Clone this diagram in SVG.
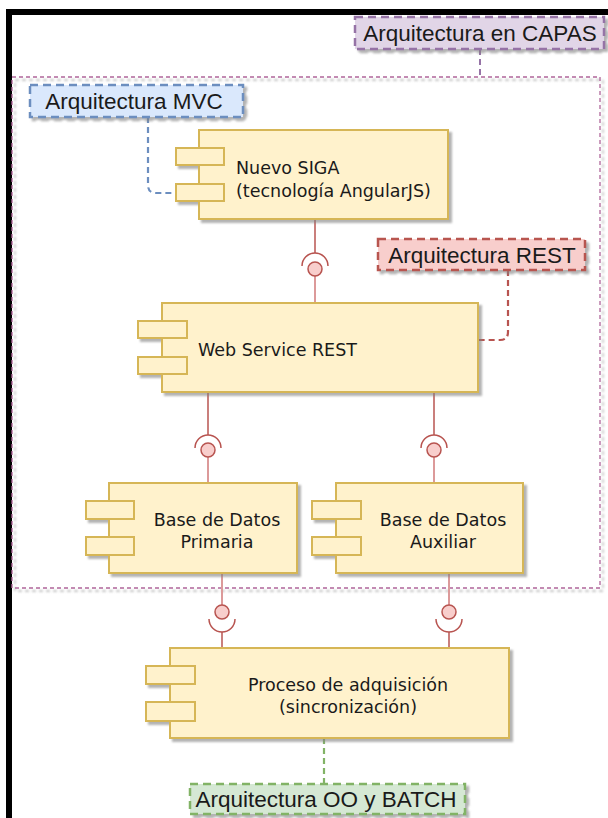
<svg xmlns="http://www.w3.org/2000/svg" width="608" height="818" viewBox="0 0 608 818">
<style>
.comp{fill:#fff2cc;stroke:#d6b656;stroke-width:2}
.ctext{font-family:"DejaVu Sans",Verdana,sans-serif;font-size:17.5px;fill:#1a1a1a}
.ntext{font-family:"Liberation Sans",Arial,sans-serif;font-size:22.5px;fill:#1a1a1a}
.dark{stroke:#b85450;stroke-width:1.5;fill:none}
.light{stroke:#dc9a9a;stroke-width:2;fill:none}
.ball{fill:#f8cecc;stroke:#b85450;stroke-width:1.5}
.arc{fill:none;stroke:#b85450;stroke-width:1.5}
</style>
<defs>
<filter id="sh" x="-10%" y="-10%" width="130%" height="140%">
<feDropShadow dx="3" dy="3" stdDeviation="1.2" flood-color="#808080" flood-opacity="0.6"/>
</filter>
</defs>
<rect width="608" height="818" fill="#ffffff"/>
<!-- frame -->
<rect x="6" y="9" width="602" height="6" fill="#000"/>
<rect x="6" y="9" width="6" height="809" fill="#000"/>

<!-- container -->
<g id="capas-container">
<rect x="12" y="77" width="588" height="511" fill="none" stroke="#b0669a" stroke-width="1.3" stroke-dasharray="4 3" filter="url(#sh)"/>
</g>

<!-- connectors -->
<g id="connectors">
<path d="M480,49 L480,77" fill="none" stroke="#9673a6" stroke-width="2" stroke-dasharray="6 4"/>
<path d="M148,117 L148,185 Q148,193 156,193 L176,193" fill="none" stroke="#6c8ebf" stroke-width="2.2" stroke-dasharray="6 4"/>
<path d="M508,270 L508,332 Q508,340 500,340 L478,340" fill="none" stroke="#b85450" stroke-width="2.2" stroke-dasharray="6 4"/>
<path d="M324,738 L324,784" fill="none" stroke="#82b366" stroke-width="2.2" stroke-dasharray="6 4"/>

<!-- SIGA - WS -->
<line class="dark" x1="315" y1="219" x2="315" y2="253"/>
<path class="arc" d="M302,266 A13,13 0 0 1 328,266"/>
<line class="light" x1="315" y1="276" x2="315" y2="303"/>
<circle class="ball" cx="315" cy="269" r="7"/>

<!-- WS - Primaria -->
<line class="dark" x1="208" y1="392" x2="208" y2="435"/>
<path class="arc" d="M195,448 A13,13 0 0 1 221,448"/>
<line class="light" x1="208" y1="457" x2="208" y2="483"/>
<circle class="ball" cx="208" cy="450" r="7"/>

<!-- WS - Auxiliar -->
<line class="dark" x1="434" y1="392" x2="434" y2="435"/>
<path class="arc" d="M421,448 A13,13 0 0 1 447,448"/>
<line class="light" x1="434" y1="457" x2="434" y2="483"/>
<circle class="ball" cx="434" cy="450" r="7"/>

<!-- Primaria - Proceso -->
<line class="light" x1="222" y1="573" x2="222" y2="605"/>
<circle class="ball" cx="222" cy="612" r="7"/>
<path class="arc" d="M209,619 A13,13 0 0 0 235,619"/>
<line class="dark" x1="222" y1="632" x2="222" y2="648"/>

<!-- Auxiliar - Proceso -->
<line class="light" x1="449" y1="573" x2="449" y2="605"/>
<circle class="ball" cx="449" cy="612" r="7"/>
<path class="arc" d="M436,619 A13,13 0 0 0 462,619"/>
<line class="dark" x1="449" y1="632" x2="449" y2="648"/>
</g>

<!-- notes -->
<g id="note-capas">
<rect x="355" y="17" width="249" height="32" fill="#e1d5e7" stroke="#9673a6" stroke-width="2.5" stroke-dasharray="8 5" filter="url(#sh)"/>
<text class="ntext" x="480" y="41" text-anchor="middle">Arquitectura en CAPAS</text>
</g>
<g id="note-mvc">
<rect x="30" y="85" width="213" height="32" fill="#dae8fc" stroke="#6c8ebf" stroke-width="2.5" stroke-dasharray="8 5" filter="url(#sh)"/>
<text class="ntext" x="134" y="109" text-anchor="middle">Arquitectura MVC</text>
</g>
<g id="note-rest">
<rect x="378" y="239" width="207" height="31" fill="#f8cecc" stroke="#b85450" stroke-width="2.5" stroke-dasharray="8 5" filter="url(#sh)"/>
<text class="ntext" x="482" y="263" text-anchor="middle">Arquitectura REST</text>
</g>
<g id="note-oo">
<rect x="190" y="784" width="275" height="30" fill="#d5e8d4" stroke="#82b366" stroke-width="2.5" stroke-dasharray="8 5" filter="url(#sh)"/>
<text class="ntext" x="326" y="807" text-anchor="middle">Arquitectura OO y BATCH</text>
</g>

<!-- components -->
<g id="nuevo-siga" filter="url(#sh)">
<rect class="comp" x="199" y="130" width="249" height="89"/>
<rect class="comp" x="176" y="148" width="48" height="17"/>
<rect class="comp" x="176" y="184" width="48" height="17"/>
</g>
<g id="nuevo-siga-label">
<text class="ctext" x="236" y="174">Nuevo SIGA</text>
<text class="ctext" x="236" y="197">(tecnología AngularJS)</text>
</g>

<g id="web-service" filter="url(#sh)">
<rect class="comp" x="162" y="303" width="316" height="89"/>
<rect class="comp" x="138" y="321" width="49" height="17"/>
<rect class="comp" x="138" y="357" width="49" height="17"/>
</g>
<g id="web-service-label">
<text class="ctext" x="198" y="356">Web Service REST</text>
</g>

<g id="bd-primaria" filter="url(#sh)">
<rect class="comp" x="109" y="483" width="188" height="90"/>
<rect class="comp" x="86" y="501" width="48" height="18"/>
<rect class="comp" x="86" y="537" width="48" height="18"/>
</g>
<g id="bd-primaria-label">
<text class="ctext" x="217" y="526" text-anchor="middle">Base de Datos</text>
<text class="ctext" x="217" y="548" text-anchor="middle">Primaria</text>
</g>

<g id="bd-auxiliar" filter="url(#sh)">
<rect class="comp" x="336" y="483" width="187" height="90"/>
<rect class="comp" x="312" y="501" width="49" height="18"/>
<rect class="comp" x="312" y="537" width="49" height="18"/>
</g>
<g id="bd-auxiliar-label">
<text class="ctext" x="443" y="526" text-anchor="middle">Base de Datos</text>
<text class="ctext" x="443" y="548" text-anchor="middle">Auxiliar</text>
</g>

<g id="proceso" filter="url(#sh)">
<rect class="comp" x="170" y="648" width="339" height="90"/>
<rect class="comp" x="146" y="666" width="49" height="18"/>
<rect class="comp" x="146" y="702" width="49" height="19"/>
</g>
<g id="proceso-label">
<text class="ctext" x="348" y="691" text-anchor="middle">Proceso de adquisición</text>
<text class="ctext" x="348" y="713" text-anchor="middle">(sincronización)</text>
</g>
</svg>
